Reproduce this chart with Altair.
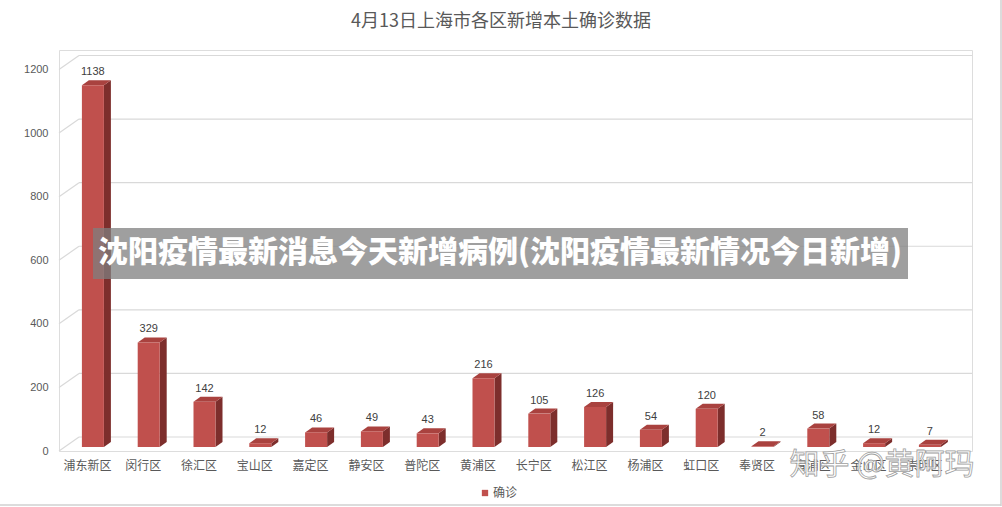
import altair as alt
import pandas as pd

# ---- data ----
title_text = "4月13日上海市各区新增本土确诊数据"
categories = ["浦东新区", "闵行区", "徐汇区", "宝山区", "嘉定区", "静安区", "普陀区", "黄浦区",
              "长宁区", "松江区", "杨浦区", "虹口区", "奉贤区", "青浦区", "金山区", "崇明区"]
values = [1138, 329, 142, 12, 46, 49, 43, 216, 105, 126, 54, 120, 2, 58, 12, 7]
series_name = "确诊"
y_ticks = [0, 200, 400, 600, 800, 1000, 1200]
banner_text = "沈阳疫情最新消息今天新增病例(沈阳疫情最新情况今日新增)"
watermark_text = "知乎 @黄阿玛"

# ---- layout / style constants ----
W, H = 913, 401
PXX = 55.8                      # px per category
PXY = (451 - 69.5) / 1200.0     # px per unit
XMIN = -0.5
XMAX = XMIN + W / PXX
YMAX = H / PXY

wall_dx, wall_dy = 20 / PXX, 14 / PXY
bar_ox, bar_oy = 6 / PXX, 4 / PXY
half_w = 11 / PXX
dep_dx, dep_dy = 7 / PXX, 5 / PXY

FRONT = "#c0504d"
SIDE = "#7d2e2c"
TOP = "#a9423f"
GRID = "#d9d9d9"
TXT = "#595959"
CJK = "Noto Sans CJK SC"

xs = alt.Scale(domain=[XMIN, XMAX], nice=False, zero=False)
ys = alt.Scale(domain=[0, YMAX], nice=False, zero=False)

label_expr = "[" + ",".join("'%s'" % c for c in categories) + "][datum.value]"
xaxis = alt.Axis(values=list(range(len(categories))), labelExpr=label_expr, domain=False,
                 ticks=False, grid=False, title=None, labelFont=CJK, labelFontSize=12,
                 labelColor=TXT, labelPadding=9, labelOverlap=False, labelAngle=0)
yaxis = alt.Axis(values=y_ticks, format="d", domain=False, ticks=False, grid=False,
                 title=None, labelFont="Liberation Sans", labelFontSize=11,
                 labelColor=TXT, labelPadding=11)


def X(f):
    return alt.X(f, type="quantitative", scale=xs, axis=xaxis)


def Y(f):
    return alt.Y(f, type="quantitative", scale=ys, axis=yaxis)


# ---- derived tables ----
grid_df = pd.DataFrame({
    "x": [XMIN + wall_dx] * len(y_ticks),
    "x2": [XMAX] * len(y_ticks),
    "y": [t + wall_dy for t in y_ticks],
})
diag_df = pd.DataFrame({
    "x": [XMIN] * len(y_ticks),
    "x2": [XMIN + wall_dx] * len(y_ticks),
    "y": list(y_ticks),
    "y2": [t + wall_dy for t in y_ticks],
})

bars = pd.DataFrame({"name": categories, "v": values, "i": range(len(categories))})
bars["L"] = bars["i"] + bar_ox - half_w
bars["R"] = bars["i"] + bar_ox + half_w
bars["b"] = bar_oy
bars["top"] = bars["v"] + bar_oy
bars["cx"] = bars["i"] + bar_ox
bars["lab_y"] = bars["top"] + dep_dy
bars["series"] = series_name

side_rows, top_rows = [], []
for rec in bars.to_dict("records"):
    n, L, R, b, tp = rec["name"], rec["L"], rec["R"], rec["b"], rec["top"]
    side_rows.append({"name": n, "x": R, "y": b, "y2": tp})
    side_rows.append({"name": n, "x": R + dep_dx, "y": b + dep_dy, "y2": tp + dep_dy})
    top_rows.append({"name": n, "x": L, "y": tp, "y2": tp})
    top_rows.append({"name": n, "x": L + dep_dx, "y": tp, "y2": tp + dep_dy})
    top_rows.append({"name": n, "x": R, "y": tp, "y2": tp + dep_dy})
    top_rows.append({"name": n, "x": R + dep_dx, "y": tp + dep_dy, "y2": tp + dep_dy})
side_df = pd.DataFrame(side_rows)
top_df = pd.DataFrame(top_rows)

# ---- layers ----
grid = alt.Chart(grid_df).mark_rule(color=GRID, strokeWidth=1.2).encode(
    x=X("x"), x2="x2", y=Y("y"))
diag = alt.Chart(diag_df).mark_rule(color=GRID, strokeWidth=1.2).encode(
    x=X("x"), x2="x2", y=Y("y"), y2="y2")

side = alt.Chart(side_df).mark_area(color=SIDE, opacity=1, interpolate="linear").encode(
    x=X("x"), y=Y("y"), y2="y2", detail="name:N")
top = alt.Chart(top_df).mark_area(color=TOP, opacity=1, interpolate="linear").encode(
    x=X("x"), y=Y("y"), y2="y2", detail="name:N")

front = alt.Chart(bars).mark_bar(opacity=1).encode(
    x=X("L"), x2="R", y=Y("b"), y2="top",
    color=alt.Color("series:N", scale=alt.Scale(domain=[series_name], range=[FRONT]),
                    legend=alt.Legend(title=None, orient="none", legendX=420, legendY=437,
                                      symbolType="square", symbolSize=40,
                                      labelFont=CJK, labelFontSize=12, labelColor=TXT,
                                      symbolStrokeWidth=0, labelOffset=2)))

labels = alt.Chart(bars).mark_text(font="Liberation Sans", fontSize=11, color="#404040",
                                   baseline="bottom", dy=-3).encode(
    x=X("cx"), y=Y("lab_y"), text="v:Q")

ann = pd.DataFrame({"t": [title_text], "b": [banner_text], "w": [watermark_text]})
title = alt.Chart(ann).mark_text(font=CJK, fontSize=18, color=TXT, baseline="middle",
                                 align="center").encode(
    x=alt.value(442), y=alt.value(-28), text="t:N")
banner_bg = alt.Chart(ann).mark_rect(color="#7f7f7f", opacity=0.75).encode(
    x=alt.value(34), x2=alt.value(849), y=alt.value(178), y2=alt.value(229))
banner = alt.Chart(ann).mark_text(font=CJK, fontSize=30, fontWeight=900, color="white",
                                  baseline="middle", align="center").encode(
    x=alt.value(441), y=alt.value(203), text="b:N")
wm = alt.Chart(ann).mark_text(font=CJK, fontSize=30, fill="white", fillOpacity=0.85,
                              stroke="#a0a0a0", strokeWidth=0.8, baseline="middle",
                              align="center").encode(
    x=alt.value(823), y=alt.value(415), text="w:N")

border = alt.Chart(ann).mark_rule(color="#d0d0d0", strokeWidth=1.5).encode(
    x=alt.value(942), y=alt.value(-50), y2=alt.value(456))
border_b = alt.Chart(ann).mark_rule(color="#d0d0d0", strokeWidth=1.5).encode(
    x=alt.value(-59), x2=alt.value(942), y=alt.value(455))

chart = alt.layer(grid, diag, side, top, front, labels, title, wm, banner_bg, banner,
                  border, border_b).properties(
    width=W, height=H,
    autosize=alt.AutoSizeParams(type="none"),
    padding={"left": 59, "top": 50, "right": 30, "bottom": 56},
).configure_view(stroke=None).configure(background="white")

chart.save("out.html", embed_options={"renderer": "svg", "actions": False})
